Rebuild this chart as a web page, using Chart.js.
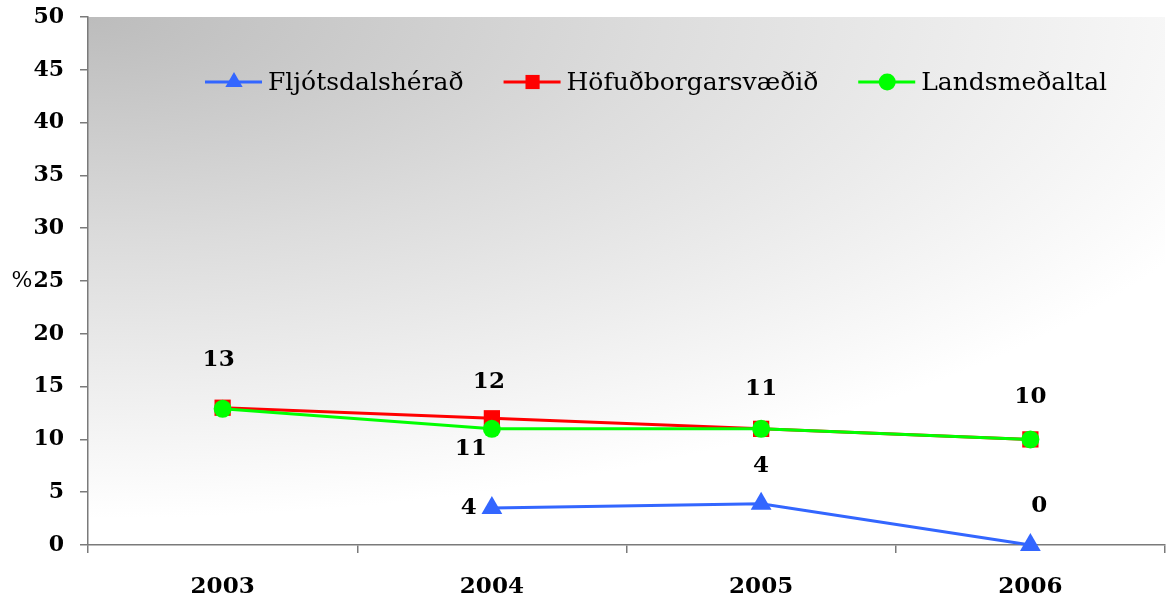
<!DOCTYPE html>
<html>
<head>
<meta charset="utf-8">
<script src="https://cdn.jsdelivr.net/npm/chart.js@4/dist/chart.umd.min.js"></script>
<style>
  html, body { margin: 0; padding: 0; background: #fff; overflow: hidden; }
  #wrap { width: 1170px; height: 605px; }
</style>
</head>
<body>
<div id="wrap"><canvas id="chart"></canvas></div>
<script>
// data
const years = ['2003', '2004', '2005', '2006'];
const fljotsdalsherad = [null, 3.5, 3.9, 0];
const hofudborgarsvaedid = [13, 12, 11, 10];
const landsmedaltal = [12.9, 11, 11, 10];
const seriesNames = ['Fljótsdalshérað', 'Höfuðborgarsvæðið', 'Landsmeðaltal'];
const yMin = 0, yMax = 50, yStep = 5;
const yTitle = '%';

// where each value label sits relative to its point (null = no label)
const labelOffsets = [
  [null, [-23, 0], [0, -38], [9, -39]],
  [[-4, -48], [-3, -36], [0, -40], [0, -42]],
  [null, [-21, 20], null, null]
];

const yFont = { family: 'DejaVu Serif', size: 22, weight: 'bold' };
const labelFont = { family: 'DejaVu Serif', size: 23, weight: 'bold' };
const fontStr = f => (f.weight || 'normal') + ' ' + f.size + 'px "' + f.family + '"';

// plot area background, dark in the top-left corner fading to white
const backgroundPlugin = {
  id: 'plotBackground',
  beforeDraw(chart) {
    const { ctx, chartArea: a } = chart;
    const w = a.right - a.left, h = a.bottom - a.top;
    const rx = w * 1.15, ry = h * 0.95;
    ctx.save();
    ctx.beginPath();
    ctx.rect(a.left, a.top, w, h);
    ctx.clip();
    ctx.translate(a.left, a.top);
    ctx.scale(1, ry / rx);
    const g = ctx.createRadialGradient(0, 0, 0, 0, 0, rx);
    g.addColorStop(0, '#bcbcbc');
    g.addColorStop(0.45, '#dcdcdc');
    g.addColorStop(1, '#ffffff');
    ctx.fillStyle = g;
    ctx.fillRect(0, 0, w, h * rx / ry);
    ctx.restore();
  }
};

// rounded value labels next to the points
const valueLabels = {
  id: 'valueLabels',
  afterDatasetsDraw(chart) {
    const ctx = chart.ctx;
    ctx.save();
    ctx.font = fontStr(labelFont);
    ctx.fillStyle = '#000';
    ctx.textAlign = 'center';
    ctx.textBaseline = 'middle';
    chart.data.datasets.forEach((ds, i) => {
      const meta = chart.getDatasetMeta(i);
      meta.data.forEach((pt, j) => {
        const v = ds.data[j];
        const off = labelOffsets[i][j];
        if (v === null || !off) return;
        ctx.fillText(String(Math.round(v)), pt.x + off[0], pt.y + off[1]);
      });
    });
    ctx.restore();
  }
};

// legend inside the plot area: line with marker, then the name
const insideLegend = {
  id: 'insideLegend',
  afterDatasetsDraw(chart) {
    const ctx = chart.ctx, a = chart.chartArea;
    let x = a.left + 117;
    const y = a.top + 65;
    ctx.save();
    ctx.font = '25px "DejaVu Serif"';
    ctx.textBaseline = 'middle';
    ctx.textAlign = 'left';
    chart.data.datasets.forEach(ds => {
      ctx.strokeStyle = ds.borderColor;
      ctx.fillStyle = ds.borderColor;
      ctx.lineWidth = 3;
      ctx.beginPath();
      ctx.moveTo(x, y);
      ctx.lineTo(x + 57, y);
      ctx.stroke();
      Chart.helpers.drawPoint(ctx, {
        pointStyle: ds.pointStyle,
        radius: ds.legendRadius,
        rotation: 0,
        borderWidth: 0
      }, x + 29, y);
      ctx.fillStyle = '#000';
      ctx.fillText(ds.label, x + 63, y + 1);
      x += 63 + ctx.measureText(ds.label).width + 40;
    });
    ctx.restore();
  }
};

// "%" axis title placed left of the 25 tick
const yTitlePlugin = {
  id: 'yTitle',
  afterDraw(chart) {
    const ctx = chart.ctx, s = chart.scales.y;
    const mid = (yMin + yMax) / 2;
    ctx.save();
    ctx.font = fontStr(yFont);
    const w = ctx.measureText(String(mid)).width;
    const right = s.right - 8 - 16 - w;
    ctx.font = '22px "DejaVu Serif"';
    ctx.fillStyle = '#000';
    ctx.textAlign = 'right';
    ctx.textBaseline = 'middle';
    ctx.fillText(yTitle, right - 1, s.getPixelForValue(mid));
    ctx.restore();
  }
};

const makeSet = (label, data, color, style, radius, legendRadius, order) => ({
  label: label,
  data: data,
  order: order,
  borderColor: color,
  backgroundColor: color,
  pointBackgroundColor: color,
  pointBorderColor: color,
  pointBorderWidth: 0,
  pointStyle: style,
  pointRadius: radius,
  pointHoverRadius: radius,
  legendRadius: legendRadius,
  borderWidth: 3,
  tension: 0,
  fill: false,
  clip: false
});

const ctx = document.getElementById('chart').getContext('2d');
new Chart(ctx, {
  type: 'line',
  data: {
    labels: years,
    datasets: [
      makeSet(seriesNames[0], fljotsdalsherad, '#3366ff', 'triangle', 12, 10, 2),
      makeSet(seriesNames[1], hofudborgarsvaedid, '#ff0000', 'rect', 11.5, 10, 1),
      makeSet(seriesNames[2], landsmedaltal, '#00ff00', 'circle', 9, 8.5, 0)
    ]
  },
  options: {
    responsive: true,
    maintainAspectRatio: false,
    animation: false,
    layout: { autoPadding: false, padding: { top: 17, right: 5, left: 0, bottom: 0 } },
    plugins: {
      legend: { display: false },
      tooltip: { enabled: false }
    },
    scales: {
      x: {
        offset: true,
        grid: {
          offset: true,
          drawOnChartArea: false,
          drawTicks: true,
          tickLength: 8,
          color: '#7a7a7a',
          lineWidth: 1.5
        },
        border: { color: '#7a7a7a', width: 1.5 },
        ticks: {
          color: '#000',
          font: labelFont,
          padding: 20,
          maxRotation: 0
        },
        afterFit(scale) {
          scale.height = 60;
          scale.paddingLeft = 0;
          scale.paddingRight = 0;
        }
      },
      y: {
        min: yMin,
        max: yMax,
        grid: {
          drawOnChartArea: false,
          drawTicks: true,
          tickLength: 8,
          color: '#7a7a7a',
          lineWidth: 1.5
        },
        border: { color: '#7a7a7a', width: 1.5 },
        ticks: {
          stepSize: yStep,
          color: '#000',
          font: yFont,
          padding: 16
        },
        afterFit(scale) {
          scale.width = 88;
          scale.paddingTop = 0;
          scale.paddingBottom = 0;
        }
      }
    }
  },
  plugins: [backgroundPlugin, valueLabels, insideLegend, yTitlePlugin]
});
</script>
</body>
</html>
